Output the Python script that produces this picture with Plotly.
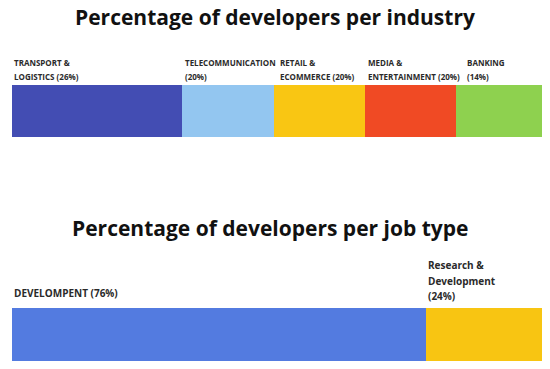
import plotly.graph_objects as go

# ---- data ----
industry_names = [["TRANSPORT &", "LOGISTICS"], ["TELECOMMUNICATION"], ["RETAIL &", "ECOMMERCE"],
                  ["MEDIA &", "ENTERTAINMENT"], ["BANKING"]]
industry_pct = [26, 20, 20, 20, 14]
industry_bar_share = [32.1, 17.4, 17.2, 17.2, 16.2]   # segment widths as drawn
industry_colors = ["#434DB3", "#93C6F0", "#F9C613", "#F04A24", "#8ED14F"]

job_names = [["DEVELOMPENT"], ["Research &", "Development"]]
job_pct = [76, 24]
job_bar_share = [78.1, 21.9]
job_colors = ["#537BE0", "#F8C512"]

FONT = "Open Sans"
TXT = "#2a2a2a"
H = 369.0


def py(pix):
    return 1 - pix / H


def lines_with_pct(words, pct):
    if len(words) == 1:
        return [words[0], f"({pct}%)"]
    return words[:-1] + [f"{words[-1]} ({pct}%)"]


fig = go.Figure()
for share, col in zip(industry_bar_share, industry_colors):
    fig.add_trace(go.Bar(x=[share], y=[0], orientation="h", marker=dict(color=col, line=dict(width=0)),
                         width=1, xaxis="x", yaxis="y", showlegend=False, hoverinfo="skip"))
for share, col in zip(job_bar_share, job_colors):
    fig.add_trace(go.Bar(x=[share], y=[0], orientation="h", marker=dict(color=col, line=dict(width=0)),
                         width=1, xaxis="x2", yaxis="y2", showlegend=False, hoverinfo="skip"))

annotations = [
    dict(text="<b>Percentage of developers per industry</b>", x=0.5, y=py(17), xref="paper", yref="paper",
         yanchor="middle", showarrow=False, font=dict(family=FONT, size=21, color="#111")),
    dict(text="<b>Percentage of developers per job type</b>", x=0.49, y=py(228), xref="paper", yref="paper",
         yanchor="middle", showarrow=False, font=dict(family=FONT, size=21, color="#111")),
]

start = 0
shifts = [0, 1, 4, 1, 9]
for words, pct, share, sh in zip(industry_names, industry_pct, industry_bar_share, shifts):
    lines = lines_with_pct(words, pct)
    for i, ln in enumerate(lines):
        annotations.append(dict(text=f"<b>{ln}</b>", x=start, xref="x", xanchor="left", xshift=sh,
                                y=py(62 + 14 * i), yref="paper", yanchor="middle", showarrow=False,
                                font=dict(family=FONT, size=8, color=TXT)))
    start += share

start = 0
for words, pct, share in zip(job_names, job_pct, job_bar_share):
    if len(words) == 1:
        lines = [f"{words[0]} ({pct}%)"]
        ys = [293]
    else:
        lines = words + [f"({pct}%)"]
        ys = [265 + 15.5 * i for i in range(len(lines))]
    for ln, yy in zip(lines, ys):
        annotations.append(dict(text=f"<b>{ln}</b>", x=start, xref="x2", xanchor="left", xshift=0,
                                y=py(yy), yref="paper", yanchor="middle", showarrow=False,
                                font=dict(family=FONT, size=10, color=TXT)))
    start += share

x0, x1 = 12 / 550, 542 / 550
fig.update_layout(
    width=550, height=369,
    margin=dict(l=0, r=0, t=0, b=0),
    paper_bgcolor="white", plot_bgcolor="white",
    barmode="stack", bargap=0,
    xaxis=dict(domain=[x0, x1], range=[0, sum(industry_bar_share)], visible=False, fixedrange=True),
    yaxis=dict(domain=[py(137), py(85)], range=[-0.5, 0.5], visible=False, fixedrange=True),
    xaxis2=dict(domain=[x0, x1], range=[0, sum(job_bar_share)], visible=False, anchor="y2", fixedrange=True),
    yaxis2=dict(domain=[py(361), py(308)], range=[-0.5, 0.5], visible=False, anchor="x2", fixedrange=True),
    annotations=annotations,
    font=dict(family=FONT),
)

fig.write_html("out.html", config={"displayModeBar": False},
               post_script="document.body.style.margin='0';document.body.style.overflow='hidden';")
